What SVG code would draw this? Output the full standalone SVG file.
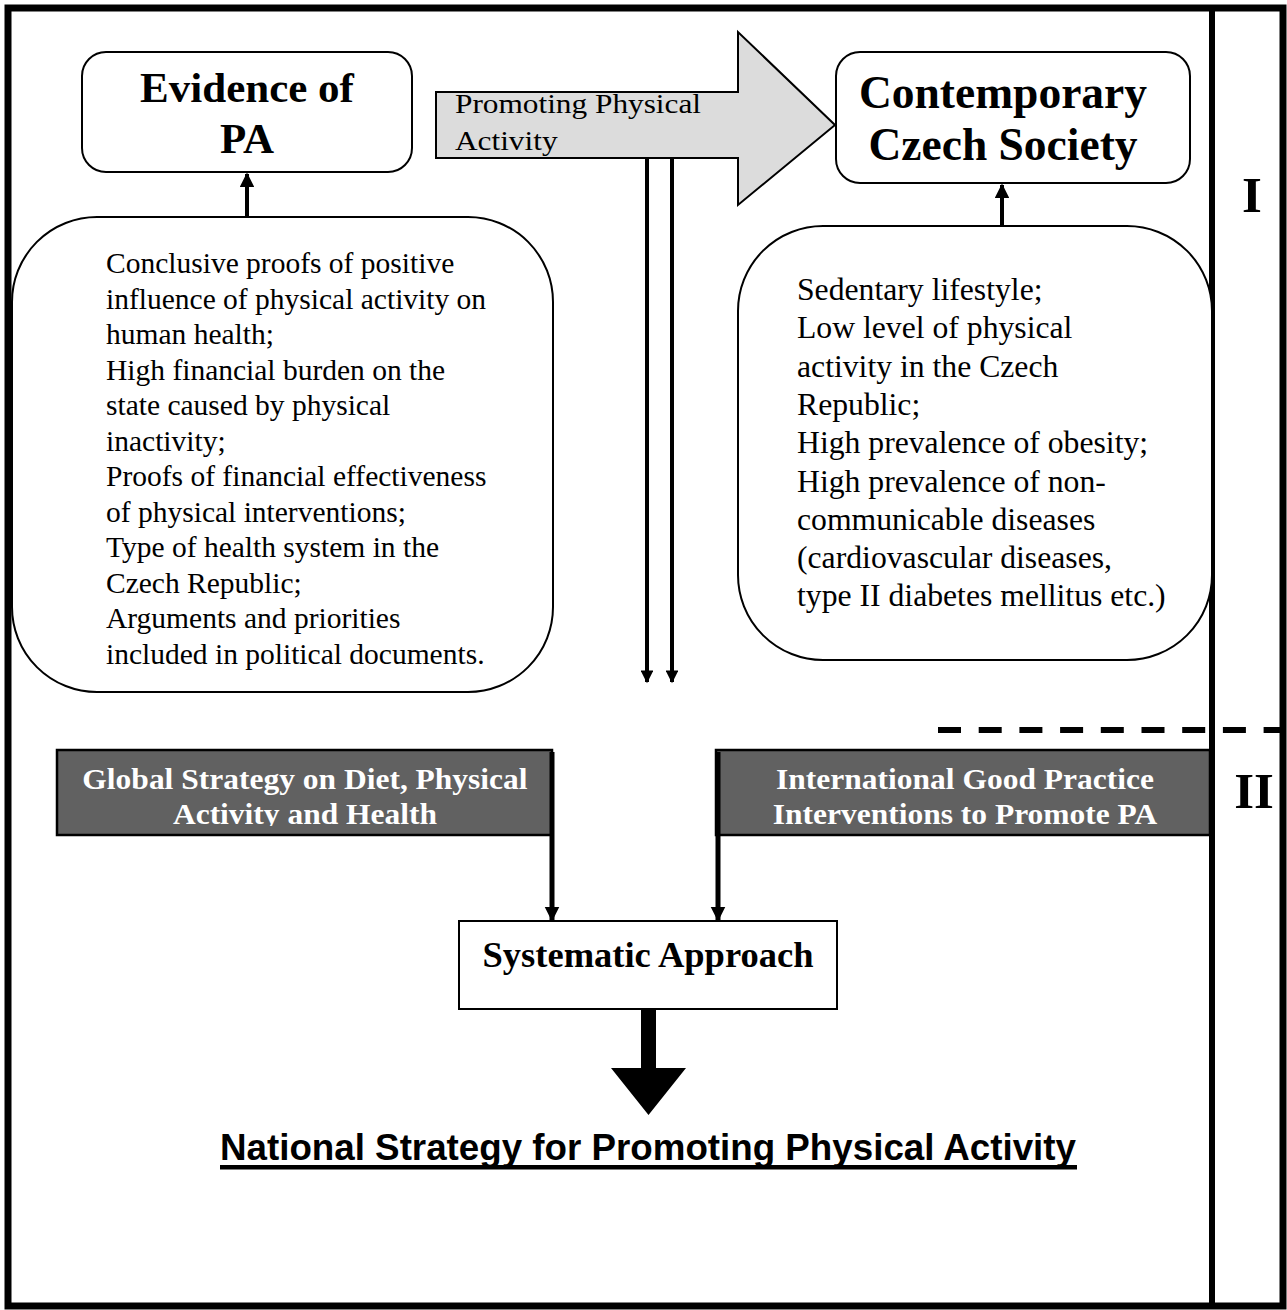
<svg xmlns="http://www.w3.org/2000/svg" width="1287" height="1310" viewBox="0 0 1287 1310">
<style>
.serif{font-family:"Liberation Serif","Times New Roman",serif;}
.head{font-family:"Liberation Serif","Times New Roman",serif;font-weight:bold;fill:#000;text-anchor:middle;}
.body{font-family:"Liberation Serif","Times New Roman",serif;fill:#000;}
.lt{font-size:29.5px;}
.rt{font-size:31.7px;}
.dark{font-family:"Liberation Serif","Times New Roman",serif;font-weight:bold;font-size:30px;fill:#fff;text-anchor:middle;}
.rbox{fill:#fff;stroke:#000;stroke-width:2;}
.dbox{fill:#616161;stroke:#000;stroke-width:2.5;}
.conn{stroke:#000;stroke-width:4;fill:none;}
.conn5{stroke:#000;stroke-width:5;fill:none;}
</style>
<defs>
<marker id="ah" viewBox="0 0 10 10" refX="9" refY="5" markerWidth="4" markerHeight="3.6" markerUnits="strokeWidth" orient="auto">
<path d="M0,0 L10,5 L0,10 z" fill="#000"/>
</marker>
<marker id="ah2" viewBox="0 0 10 10" refX="9" refY="5" markerWidth="5" markerHeight="3.2" markerUnits="strokeWidth" orient="auto">
<path d="M0,0 L10,5 L0,10 z" fill="#000"/>
</marker>
<marker id="ah3" viewBox="0 0 10 10" refX="9" refY="5" markerWidth="3" markerHeight="3.3" markerUnits="strokeWidth" orient="auto">
<path d="M0,0 L10,5 L0,10 z" fill="#000"/>
</marker>
<clipPath id="clipArrow"><rect x="436" y="92" width="302" height="66"/></clipPath>
<clipPath id="clipGlobal"><rect x="57" y="750" width="495" height="76"/></clipPath>
</defs>
<rect width="1287" height="1310" fill="#fff"/>
<g id="frame">
<rect x="8" y="8" width="1275" height="1298" fill="none" stroke="#000" stroke-width="7"/>
<line x1="1212" y1="8" x2="1212" y2="1306" stroke="#000" stroke-width="6"/>
<line x1="938" y1="730" x2="1283" y2="730" stroke="#000" stroke-width="6" stroke-dasharray="23,17.7"/>
<text class="serif" x="1252" y="212" font-size="51" font-weight="bold" text-anchor="middle">I</text>
<text class="serif" x="1254" y="808" font-size="51" font-weight="bold" text-anchor="middle">II</text>
</g>
<g id="evidence">
<rect class="rbox" x="82" y="52" width="330" height="120" rx="24"/>
<text class="head" x="247" y="102" style="font-size:43px">Evidence of</text>
<text class="head" x="247" y="153" style="font-size:43px">PA</text>
</g>
<g id="promoting">
<path d="M436,92 L738,92 L738,32 L835,125 L738,205 L738,158 L436,158 Z" fill="#dcdcdc" stroke="#000" stroke-width="2"/>
<g clip-path="url(#clipArrow)">
<g transform="matrix(1.16,0,0,1,-72.8,0)">
<text class="body" x="455" y="113" style="font-size:27px">Promoting Physical</text>
<text class="body" x="455" y="150" style="font-size:27px">Activity</text>
</g>
</g>
</g>
<g id="contemporary">
<rect class="rbox" x="836" y="52" width="354" height="131" rx="24"/>
<text class="head" x="1003" y="108" style="font-size:45.5px">Contemporary</text>
<text class="head" x="1003" y="160" style="font-size:45.5px">Czech Society</text>
</g>
<g id="left-evidence">
<rect class="rbox" x="12" y="217" width="541" height="475" rx="85"/>
<text class="body lt" x="106" y="273">Conclusive proofs of positive</text>
<text class="body lt" x="106" y="308.5">influence of physical activity on</text>
<text class="body lt" x="106" y="344">human health;</text>
<text class="body lt" x="106" y="379.5">High financial burden on the</text>
<text class="body lt" x="106" y="415">state caused by physical</text>
<text class="body lt" x="106" y="450.5">inactivity;</text>
<text class="body lt" x="106" y="486">Proofs of financial effectiveness</text>
<text class="body lt" x="106" y="521.5">of physical interventions;</text>
<text class="body lt" x="106" y="557">Type of health system in the</text>
<text class="body lt" x="106" y="592.5">Czech Republic;</text>
<text class="body lt" x="106" y="628">Arguments and priorities</text>
<text class="body lt" x="106" y="663.5">included in political documents.</text>
</g>
<g id="right-society">
<rect class="rbox" x="738" y="226" width="474" height="434" rx="85"/>
<text class="body rt" x="797" y="300">Sedentary lifestyle;</text>
<text class="body rt" x="797" y="338.3">Low level of physical</text>
<text class="body rt" x="797" y="376.6">activity in the Czech</text>
<text class="body rt" x="797" y="414.9">Republic;</text>
<text class="body rt" x="797" y="453.2">High prevalence of obesity;</text>
<text class="body rt" x="797" y="491.5">High prevalence of non-</text>
<text class="body rt" x="797" y="529.8">communicable diseases</text>
<text class="body rt" x="797" y="568.1">(cardiovascular diseases,</text>
<text class="body rt" x="797" y="606.4">type II diabetes mellitus etc.)</text>
</g>
<g id="global">
<rect class="dbox" x="57" y="750" width="495" height="85"/>
<g clip-path="url(#clipGlobal)">
<g transform="matrix(1.05,0,0,1,-15.25,0)">
<text class="dark" x="305" y="789">Global Strategy on Diet, Physical</text>
<text class="dark" x="305" y="824">Activity and Health</text>
</g>
</g>
</g>
<g id="international">
<rect class="dbox" x="716" y="750" width="494" height="85"/>
<g transform="matrix(1.05,0,0,1,-48.25,0)">
<text class="dark" x="965" y="789">International Good Practice</text>
<text class="dark" x="965" y="824">Interventions to Promote PA</text>
</g>
</g>
<g id="systematic">
<rect class="rbox" x="459" y="921" width="378" height="88"/>
<text class="head" x="648" y="967" style="font-size:36.5px">Systematic Approach</text>
</g>
<g id="national">
<text x="220" y="1160" font-family="'Liberation Sans',Arial,sans-serif" font-weight="bold" font-size="37" textLength="856" lengthAdjust="spacingAndGlyphs" fill="#000">National Strategy for Promoting Physical Activity</text>
<rect x="220" y="1165" width="857" height="4.5" fill="#000"/>
</g>
<g id="connectors">
<line class="conn" x1="247" y1="217" x2="247" y2="174" marker-end="url(#ah)"/>
<line class="conn" x1="1002" y1="226" x2="1002" y2="185" marker-end="url(#ah)"/>
<line class="conn" x1="647" y1="158" x2="647" y2="682" marker-end="url(#ah2)"/>
<line class="conn" x1="672" y1="158" x2="672" y2="682" marker-end="url(#ah2)"/>
<line class="conn5" x1="552" y1="752" x2="552" y2="920" marker-end="url(#ah3)"/>
<line class="conn5" x1="718" y1="752" x2="718" y2="920" marker-end="url(#ah3)"/>
<path d="M641,1009 L656,1009 L656,1068 L686,1068 L648.5,1115 L611,1068 L641,1068 Z" fill="#000"/>
</g>
</svg>
